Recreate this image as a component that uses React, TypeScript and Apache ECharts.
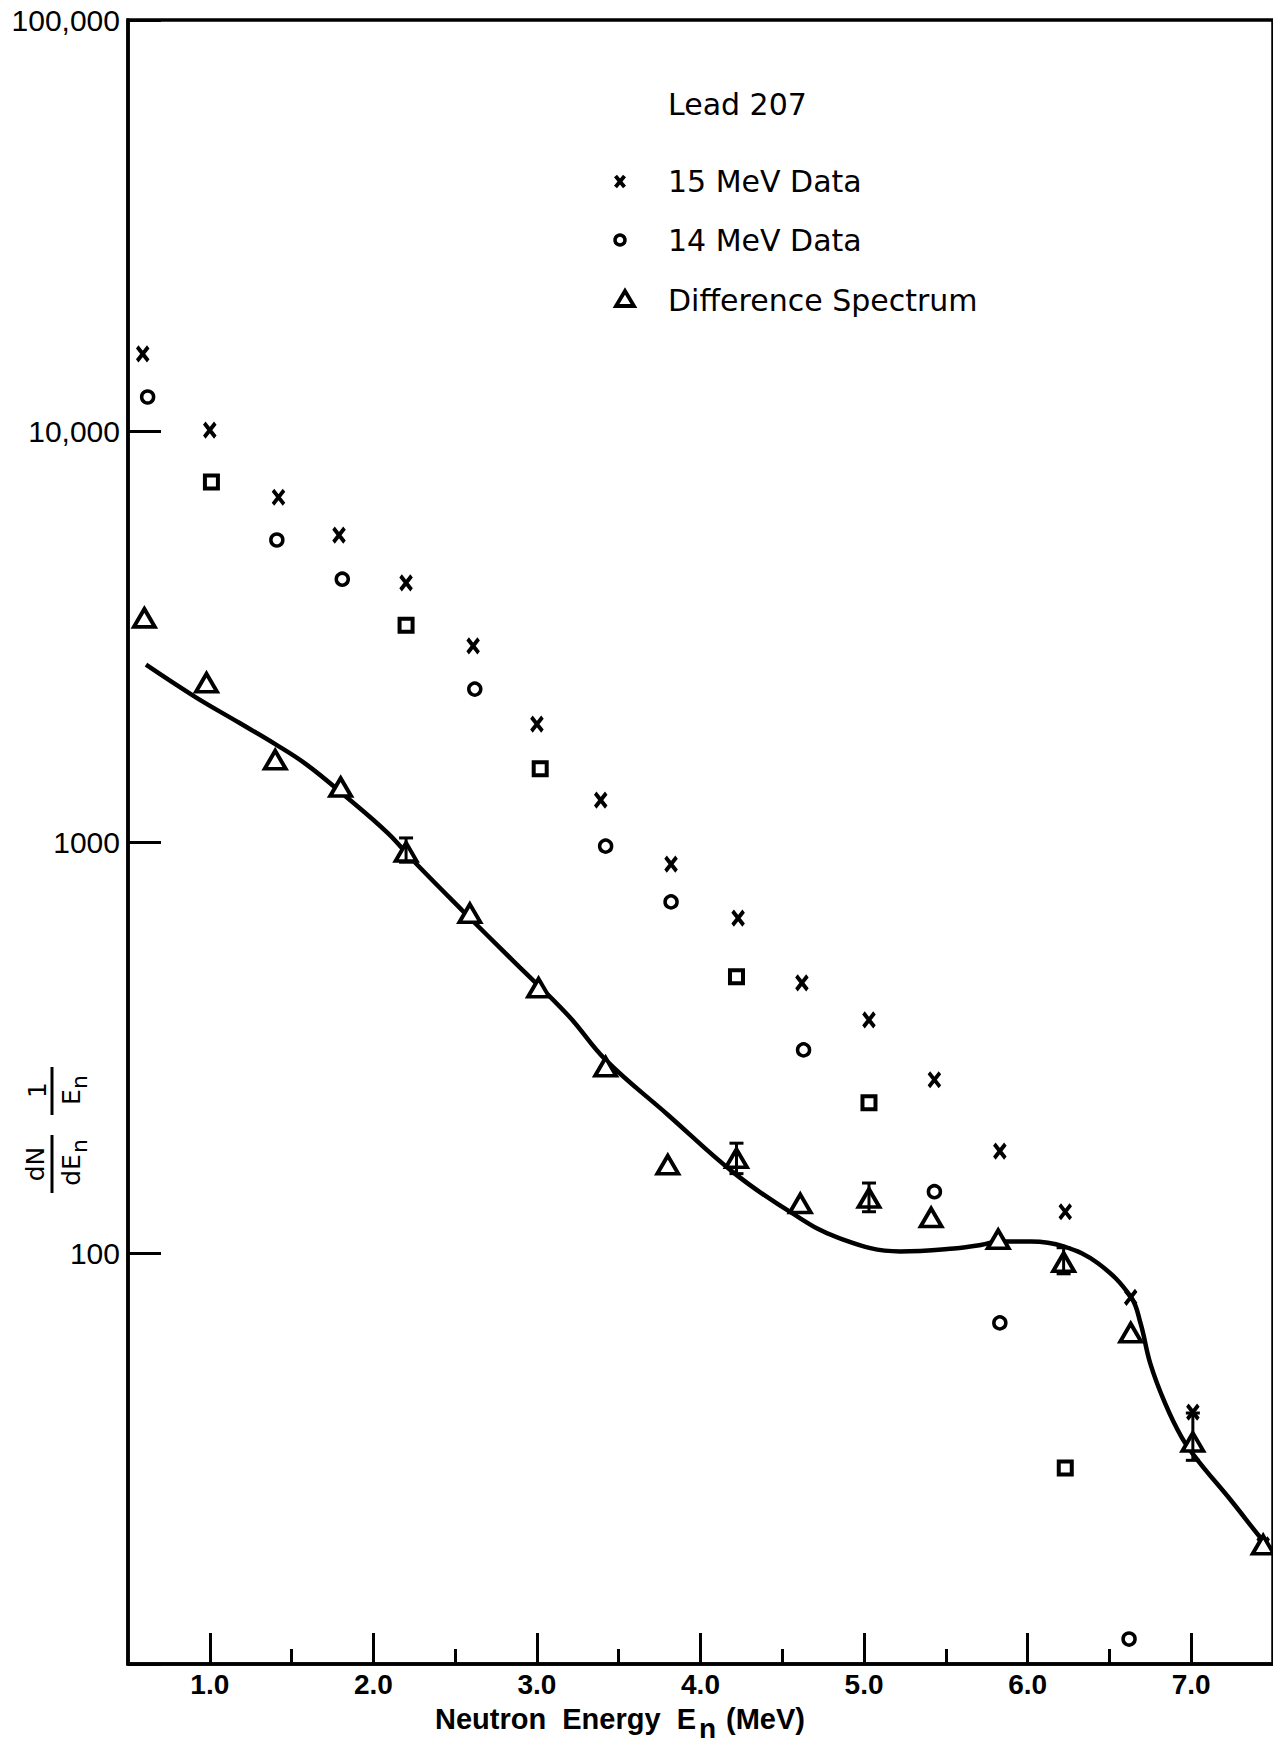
import React, { useEffect, useRef } from "react";
import * as echarts from "echarts";

// ---- Data (Lead 207) ----
const energy15 = [0.59, 1.0, 1.42, 1.79, 2.2, 2.61, 3.0, 3.39, 3.82, 4.23, 4.62, 5.03, 5.43, 5.83, 6.23, 6.63, 7.01, 7.44];
const counts15 = [15400, 10050, 6900, 5580, 4270, 3000, 1936, 1265, 883, 653, 454, 369, 264, 177, 126, 78, 41, 19.5];

const energy14 = [0.62, 1.01, 1.41, 1.81, 2.2, 2.62, 3.02, 3.42, 3.82, 4.22, 4.63, 5.03, 5.43, 5.83, 6.23, 6.62];
const counts14 = [12100, 7510, 5430, 4360, 3370, 2355, 1507, 977, 715, 470, 312, 232, 141, 67.6, 30, 11.5];
const boxed14 = [false, true, false, false, true, false, true, false, false, true, false, true, false, false, true, false];

const energyDiff = [0.6, 0.98, 1.4, 1.8, 2.2, 2.59, 3.01, 3.42, 3.8, 4.22, 4.61, 5.03, 5.41, 5.82, 6.22, 6.63, 7.01, 7.44];
const countsDiff = [3510, 2440, 1585, 1360, 946, 671, 442, 284, 164, 170, 132, 136, 122, 108, 95, 64, 34.7, 19.5];

const errEnergy = [2.2, 4.22, 5.03, 6.22, 7.01];
const errLow = [893, 156, 126, 89, 31.3];
const errHigh = [1023, 185, 148, 103, 40.8];

const fitEnergy = [0.61, 0.91, 1.18, 1.4, 1.59, 1.81, 2.09, 2.24, 2.54, 2.85, 3.19, 3.42, 3.8, 4.21, 4.56, 4.84, 5.22, 5.55, 5.72, 5.82, 6.02, 6.22, 6.43, 6.63, 6.69, 6.75, 6.84, 6.94, 7.04, 7.24, 7.45, 7.5];
const fitCounts = [2700, 2255, 1950, 1730, 1545, 1312, 1050, 904, 684, 516, 379, 295, 217, 156, 125, 109, 100.9, 102.6, 104.7, 106.7, 106.7, 103.8, 94.4, 78.3, 67.5, 53.8, 43.1, 35.7, 31.3, 25.1, 19.7, 18.9];

const majorTicks = [1, 2, 3, 4, 5, 6, 7];
const minorTicks = [1.5, 2.5, 3.5, 4.5, 5.5, 6.5];
const yTickLabels: Record<number, string> = { 100000: "100,000", 10000: "10,000", 1000: "1000", 100: "100", 10: "" };

const legendTitle = "Lead 207";
const legendNames = ["15 MeV Data", "14 MeV Data", "Difference Spectrum"];

const BLACK = "#000";
const LEGEND_FONT = "DejaVu Sans";
const TICK_FONT = "Liberation Sans";

export default function App() {
  const ref = useRef<HTMLDivElement>(null);

  useEffect(() => {
    if (!ref.current) return;
    const chart = echarts.init(ref.current, null, { renderer: "svg" });

    const xPath = "path://M0,0L10,13M10,0L0,13";

    const fraction = (t: string, u: number, v: number, size: number) => ({
      type: "text",
      x: u,
      y: v,
      style: { text: t, fill: BLACK, fontSize: size, fontFamily: LEGEND_FONT, align: "center", verticalAlign: "middle" },
    });

    const option: any = {
      animation: false,
      backgroundColor: "#fff",
      grid: {
        left: 128,
        top: 20,
        right: -2,
        bottom: 81,
        show: true,
        borderColor: BLACK,
        borderWidth: 3.5,
        containLabel: false,
      },
      xAxis: [
        {
          type: "value",
          min: 0.5,
          max: 7.5,
          splitLine: { show: false },
          axisLine: { show: true, lineStyle: { color: BLACK, width: 3.5 } },
          axisTick: { show: true, inside: true, length: 31, customValues: majorTicks, lineStyle: { color: BLACK, width: 3 } },
          axisLabel: {
            show: true,
            customValues: majorTicks,
            margin: 6,
            color: BLACK,
            fontSize: 28,
            fontWeight: "bold",
            fontFamily: TICK_FONT,
            formatter: (v: number) => v.toFixed(1),
          },
        },
        {
          type: "value",
          min: 0.5,
          max: 7.5,
          position: "bottom",
          splitLine: { show: false },
          axisLine: { show: false },
          axisTick: { show: true, inside: true, length: 15, customValues: minorTicks, lineStyle: { color: BLACK, width: 3 } },
          axisLabel: { show: false },
        },
      ],
      yAxis: {
        type: "log",
        logBase: 10,
        min: 10,
        max: 100000,
        splitLine: { show: false },
        minorTick: { show: false },
        axisLine: { show: true, lineStyle: { color: BLACK, width: 3.5 } },
        axisTick: { show: true, inside: true, length: 33, lineStyle: { color: BLACK, width: 3 } },
        axisLabel: {
          margin: 8,
          color: BLACK,
          fontSize: 30,
          fontFamily: TICK_FONT,
          formatter: (v: number) => {
            const r = Math.round(v);
            return yTickLabels[r] !== undefined ? yTickLabels[r] : String(r);
          },
        },
      },
      series: [
        {
          name: "Fit",
          type: "line",
          smooth: 0.4,
          showSymbol: false,
          symbol: "none",
          z: 2,
          lineStyle: { color: BLACK, width: 4.5 },
          data: fitEnergy.map((e, i) => [e, fitCounts[i]]),
        },
        {
          name: legendNames[0],
          type: "scatter",
          symbol: xPath,
          symbolSize: [11, 14],
          z: 3,
          itemStyle: { color: BLACK, borderColor: BLACK, borderWidth: 4, opacity: 1 },
          data: energy15.map((e, i) => [e, counts15[i]]),
        },
        {
          name: legendNames[1],
          type: "scatter",
          symbol: "circle",
          symbolSize: 12,
          z: 3,
          itemStyle: { color: "#fff", borderColor: BLACK, borderWidth: 3.5, opacity: 1 },
          data: energy14.map((e, i) =>
            boxed14[i]
              ? { value: [e, counts14[i]], symbol: "rect", symbolSize: 13, itemStyle: { borderWidth: 4 } }
              : { value: [e, counts14[i]] }
          ),
        },
        {
          name: legendNames[2],
          type: "scatter",
          symbol: "triangle",
          symbolSize: [21, 18],
          z: 4,
          itemStyle: { color: "#fff", borderColor: BLACK, borderWidth: 3.8, opacity: 1 },
          data: energyDiff.map((e, i) => [e, countsDiff[i]]),
        },
        {
          name: "Error bars",
          type: "custom",
          z: 5,
          data: errEnergy.map((e, i) => [e, errLow[i], errHigh[i]]),
          renderItem: (params: any, api: any) => {
            const x = api.value(0);
            const top = api.coord([x, api.value(2)]);
            const bot = api.coord([x, api.value(1)]);
            const st = { stroke: BLACK, lineWidth: 3 };
            return {
              type: "group",
              children: [
                { type: "line", shape: { x1: top[0], y1: top[1], x2: bot[0], y2: bot[1] }, style: st },
                { type: "line", shape: { x1: top[0] - 7, y1: top[1], x2: top[0] + 7, y2: top[1] }, style: st },
                { type: "line", shape: { x1: bot[0] - 7, y1: bot[1], x2: bot[0] + 7, y2: bot[1] }, style: st },
              ],
            };
          },
        },
      ],
      graphic: [
        // Legend block
        {
          type: "text",
          x: 668,
          y: 104,
          style: { text: legendTitle, fill: BLACK, fontSize: 30, fontFamily: LEGEND_FONT, verticalAlign: "middle" },
        },
        { type: "line", shape: { x1: 615.5, y1: 176, x2: 624.5, y2: 187 }, style: { stroke: BLACK, lineWidth: 3.8 } },
        { type: "line", shape: { x1: 624.5, y1: 176, x2: 615.5, y2: 187 }, style: { stroke: BLACK, lineWidth: 3.8 } },
        {
          type: "text",
          x: 668,
          y: 181,
          style: { text: legendNames[0], fill: BLACK, fontSize: 30, fontFamily: LEGEND_FONT, verticalAlign: "middle" },
        },
        { type: "circle", shape: { cx: 620, cy: 240, r: 5 }, style: { fill: "#fff", stroke: BLACK, lineWidth: 3.5 } },
        {
          type: "text",
          x: 668,
          y: 240,
          style: { text: legendNames[1], fill: BLACK, fontSize: 30, fontFamily: LEGEND_FONT, verticalAlign: "middle" },
        },
        {
          type: "polygon",
          shape: { points: [[616, 306], [634, 306], [625, 291]] },
          style: { fill: "#fff", stroke: BLACK, lineWidth: 3.8 },
        },
        {
          type: "text",
          x: 668,
          y: 300,
          style: { text: legendNames[2], fill: BLACK, fontSize: 30, fontFamily: LEGEND_FONT, verticalAlign: "middle" },
        },
        // X axis title
        {
          type: "text",
          x: 696,
          y: 1719,
          style: { text: "Neutron  Energy  E", fill: BLACK, fontSize: 29, fontWeight: "bold", fontFamily: TICK_FONT, align: "right", verticalAlign: "middle" },
        },
        {
          type: "text",
          x: 699,
          y: 1728,
          style: { text: "n", fill: BLACK, fontSize: 28, fontWeight: "bold", fontFamily: TICK_FONT, align: "left", verticalAlign: "middle" },
        },
        {
          type: "text",
          x: 726,
          y: 1719,
          style: { text: "(MeV)", fill: BLACK, fontSize: 29, fontWeight: "bold", fontFamily: TICK_FONT, align: "left", verticalAlign: "middle" },
        },
        // Y axis title (rotated fraction dN/dEn · 1/En)
        {
          type: "group",
          x: 52,
          y: 1130,
          rotation: Math.PI / 2,
          children: [
            fraction("dN", -34, -17, 25),
            { type: "line", shape: { x1: -63, y1: 0, x2: -5, y2: 0 }, style: { stroke: BLACK, lineWidth: 3 } },
            fraction("dE", -40, 19, 25),
            fraction("n", -16, 27, 22),
            fraction("1", 40, -15, 25),
            { type: "line", shape: { x1: 15, y1: 0, x2: 63, y2: 0 }, style: { stroke: BLACK, lineWidth: 3 } },
            fraction("E", 33, 19, 25),
            fraction("n", 48, 27, 22),
          ],
        },
      ],
    };

    chart.setOption(option);
    return () => chart.dispose();
  }, []);

  return (
    <div
      ref={ref}
      style={{ position: "absolute", left: 0, top: 0, width: 1273, height: 1745, background: "#fff" }}
    />
  );
}
